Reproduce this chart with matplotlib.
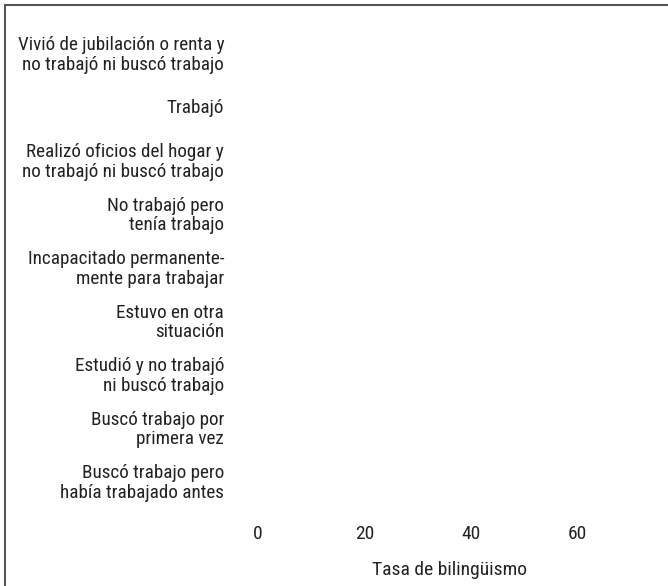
import matplotlib.pyplot as plt
from matplotlib.lines import Line2D

# categories (top to bottom), no bars are visible in the reference
categorias = [
    "Vivió de jubilación o renta y\nno trabajó ni buscó trabajo",
    "Trabajó",
    "Realizó oficios del hogar y\nno trabajó ni buscó trabajo",
    "No trabajó pero\ntenía trabajo",
    "Incapacitado permanente-\nmente para trabajar",
    "Estuvo en otra\nsituación",
    "Estudió y no trabajó\nni buscó trabajo",
    "Buscó trabajo por\nprimera vez",
    "Buscó trabajo pero\nhabía trabajado antes",
]
x_ticks = [0, 20, 40, 60]
x_label = "Tasa de bilingüismo"

plt.rcParams['font.family'] = ['Roboto Condensed', 'Archivo Narrow', 'PT Sans Narrow',
                               'Liberation Sans Narrow', 'DejaVu Sans']
txt = '#222222'

W, H = 668, 586
fig = plt.figure(figsize=(W / 100, H / 100), dpi=100)

# axes placed in pixel coordinates
left, right, top, bottom = 245, 653, 20, 515
ax = fig.add_axes([left / W, 1 - bottom / H, (right - left) / W, (bottom - top) / H])

ax.set_yticks(range(len(categorias)))
ax.set_yticklabels(categorias, fontsize=13.8, color=txt, linespacing=1.12)
ax.set_ylim(8.65, -0.6)
ax.set_xticks(x_ticks)
ax.set_xticklabels([str(v) for v in x_ticks], fontsize=14, color=txt)
ax.set_xlim(-2.4, 74.2)
ax.set_xlabel(x_label, fontsize=14, color=txt, labelpad=13)
ax.tick_params(length=0, pad=7)
ax.tick_params(axis='y', pad=15)
for s in ax.spines.values():
    s.set_visible(False)

# frame lines on top and left of the figure
fig.add_artist(Line2D([5 / W, 1], [1 - 5 / H, 1 - 5 / H], color='#555555', lw=1.5))
fig.add_artist(Line2D([5 / W, 5 / W], [0, 1 - 5 / H], color='#555555', lw=1.5))

fig.savefig('out.png', dpi=100)
